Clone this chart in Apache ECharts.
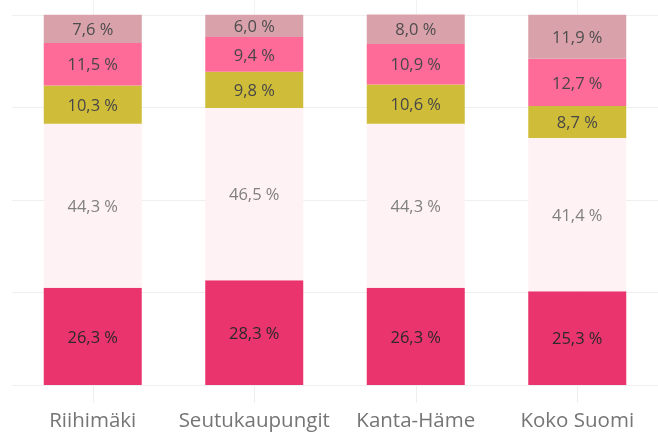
<!DOCTYPE html>
<html><head><meta charset="utf-8">
<script src="https://cdn.jsdelivr.net/npm/echarts@6/dist/echarts.min.js"></script>
<style>html,body{margin:0;padding:0;background:#fff}#c{width:658px;height:432px}</style>
</head><body><div id="c"></div>
<script>
const categories = ['Riihimäki', 'Seutukaupungit', 'Kanta-Häme', 'Koko Suomi'];
const s1 = [26.3, 28.3, 26.3, 25.3];
const s2 = [44.3, 46.5, 44.3, 41.4];
const s3 = [10.3, 9.8, 10.6, 8.7];
const s4 = [11.5, 9.4, 10.9, 12.7];
const s5 = [7.6, 6.0, 8.0, 11.9];
const yTicks = [0, 25, 50, 75, 100];

const colors = ['#EA346D', '#FFF2F4', '#CFBC38', '#FF6B98', '#D9A1AA'];
const labelColors = ['#2a2a2a', '#808080', '#474747', '#474747', '#4d4d4d'];
const fmt = p => p.value.toFixed(1).replace('.', ',') + ' %';
const FONT = 'Open Sans';
function mk(name, data, i) {
  return {
    name, type: 'bar', stack: 'a', data, barWidth: 98,
    itemStyle: { color: colors[i] },
    label: { show: true, position: 'inside', offset: [0, 1.5], formatter: fmt, color: labelColors[i], fontFamily: FONT, fontSize: 16.5 }
  };
}
const chart = echarts.init(document.getElementById('c'), null, { renderer: 'canvas' });
chart.setOption({
  animation: false,
  grid: { left: 12, right: 0, top: 0, bottom: 46, containLabel: false },
  xAxis: {
    type: 'category', data: categories,
    axisLine: { show: false },
    axisTick: { show: true, alignWithLabel: true, length: 18, lineStyle: { color: '#eeeeee' } },
    splitLine: { show: true, alignWithLabel: true, lineStyle: { color: '#f2f2f2' } },
    axisLabel: { color: '#757575', fontFamily: FONT, fontSize: 20.5, margin: 26, interval: 0, hideOverlap: false }
  },
  yAxis: {
    type: 'value', min: yTicks[0], max: 104, interval: 25,
    axisLabel: { show: false }, axisLine: { show: false }, axisTick: { show: false },
    splitLine: { show: true, showMaxLine: false, lineStyle: { color: '#efefef' } }
  },
  series: [mk('a', s1, 0), mk('b', s2, 1), mk('c', s3, 2), mk('d', s4, 3), mk('e', s5, 4)]
});
</script></body></html>
